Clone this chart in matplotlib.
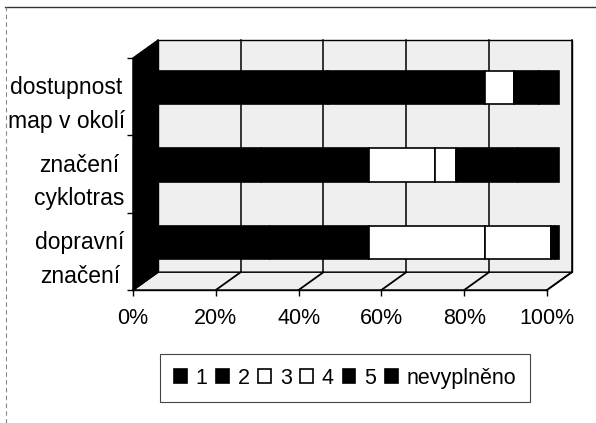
import matplotlib
matplotlib.use("Agg")
import matplotlib.pyplot as plt
from matplotlib.patches import Polygon, Rectangle
from matplotlib.lines import Line2D

plt.rcParams['font.family'] = ['Liberation Sans', 'DejaVu Sans']

# data (share of answers in %)
categories = ['dopravní\nznačení', 'značení\ncyklotras', 'dostupnost\nmap v okolí']
s1 = [30, 28, 44]
s2 = [24, 26, 38]
s3 = [28, 16, 7]
s4 = [16, 5, 0]
s5 = [1, 15, 6]
s_nev = [1, 10, 5]
series_names = ['1', '2', '3', '4', '5', 'nevyplněno']
series_colors = ['black', 'black', 'white', 'white', 'black', 'black']
xticks = [0, 20, 40, 60, 80, 100]
xticklabels = ['0%', '20%', '40%', '60%', '80%', '100%']

fig = plt.figure(figsize=(5.96, 4.23), dpi=100)
ax = fig.add_axes([133/596, 133/423, 414/596, 232/423])
ax.set_xlim(0, 100)
ax.set_ylim(-0.5, 2.5)

# fake 3d depth, in data units
dx = 6.0
dy = 0.23
wall = '#efefef'

# back wall + grid
ax.add_patch(Rectangle((dx, -0.5 + dy), 100, 3, facecolor=wall, edgecolor='black',
                       lw=1, clip_on=False, zorder=0))
for t in xticks:
    ax.plot([t + dx, t + dx], [-0.5 + dy, 2.5 + dy], color='black', lw=1.1,
            clip_on=False, zorder=1)

# floor
ax.add_patch(Polygon([(0, -0.5), (100, -0.5), (100 + dx, -0.5 + dy), (dx, -0.5 + dy)],
                     closed=True, facecolor=wall, edgecolor='black', lw=1,
                     clip_on=False, zorder=1))
for t in xticks:
    ax.plot([t, t + dx], [-0.5, -0.5 + dy], color='black', lw=1.3,
            clip_on=False, zorder=1.5)

# left wall
ax.add_patch(Polygon([(0, -0.5), (dx, -0.5 + dy), (dx, 2.5 + dy), (0, 2.5)],
                     closed=True, facecolor='black', edgecolor='black', lw=1,
                     clip_on=False, zorder=2))

# stacked bars at mid depth
y = [i + dy / 2 for i in range(len(categories))]
left = [dx / 2] * len(categories)
for name, vals, col in zip(series_names, [s1, s2, s3, s4, s5, s_nev], series_colors):
    ax.barh(y, vals, left=left, height=0.43, color=col, edgecolor='black',
            lw=1.2, label=name, clip_on=False, zorder=3)
    left = [l + v for l, v in zip(left, vals)]

for s in ['top', 'right']:
    ax.spines[s].set_visible(False)
ax.spines['bottom'].set_linewidth(1)
ax.spines['left'].set_linewidth(1)

ax.set_xticks(xticks)
ax.set_xticklabels(xticklabels, fontsize=15.5)
ax.tick_params(axis='x', direction='out', length=4, width=1, pad=9)

ax.set_yticks([-0.5, 0.5, 1.5, 2.5])
ax.set_yticklabels([])
ax.tick_params(axis='y', which='major', direction='out', length=4, width=1)
ax.set_yticks(range(len(categories)), minor=True)
ax.set_yticklabels(categories, minor=True, fontsize=16.5, multialignment='center',
                   linespacing=1.6)
ax.tick_params(axis='y', which='minor', length=0, pad=6)

leg = ax.legend(loc='center', bbox_to_anchor=(345/596, 45/423),
                bbox_transform=fig.transFigure, ncol=6, fontsize=15.5,
                frameon=True, fancybox=False, framealpha=1, edgecolor='#444444',
                handlelength=0.6, handleheight=0.6, handletextpad=0.4,
                columnspacing=0.4, borderpad=0.65, borderaxespad=0)
leg.get_frame().set_linewidth(0.8)

# outer chart frame (only top and left visible)
fig.add_artist(Line2D([5/596, 1], [1 - 7/423, 1 - 7/423], color='#333333', lw=1))
fig.add_artist(Line2D([6/596, 6/596], [0, 1 - 7/423], color='#888888', lw=0.8,
                      linestyle=(0, (4, 3))))

fig.savefig('out.png', dpi=100)
